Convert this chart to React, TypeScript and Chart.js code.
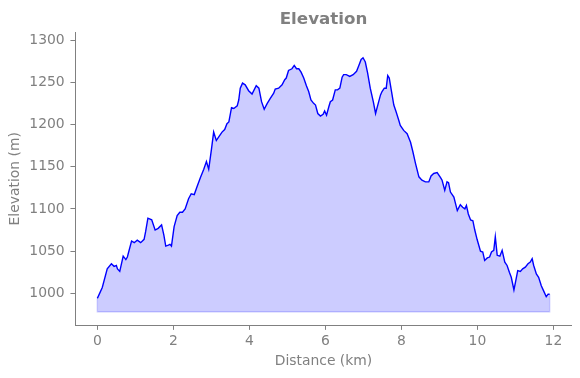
import React, { useEffect, useRef } from "react";
import { Chart, registerables } from "chart.js";

Chart.register(...registerables);

const distances: number[] = [
  0.0, 0.13, 0.26, 0.37, 0.44, 0.5, 0.53, 0.59, 0.68, 0.75, 0.79, 0.9, 0.97, 1.05, 1.14, 1.23, 1.27, 1.33, 1.43,
  1.52, 1.6, 1.69, 1.75, 1.8, 1.87, 1.91, 1.95, 2.02, 2.1, 2.17, 2.24, 2.31, 2.4, 2.47, 2.55, 2.62, 2.71, 2.8,
  2.87, 2.93, 3.0, 3.06, 3.13, 3.19, 3.28, 3.35, 3.41, 3.46, 3.53, 3.59, 3.68, 3.72, 3.76, 3.82, 3.89, 3.98,
  4.07, 4.18, 4.25, 4.32, 4.39, 4.47, 4.55, 4.64, 4.68, 4.77, 4.86, 4.93, 4.97, 5.03, 5.12, 5.18, 5.24, 5.3,
  5.36, 5.43, 5.5, 5.56, 5.62, 5.69, 5.74, 5.8, 5.87, 5.94, 5.98, 6.03, 6.09, 6.13, 6.19, 6.26, 6.32, 6.38,
  6.44, 6.48, 6.55, 6.64, 6.73, 6.82, 6.88, 6.94, 6.99, 7.05, 7.11, 7.18, 7.26, 7.32, 7.39, 7.45, 7.49, 7.55,
  7.6, 7.64, 7.68, 7.74, 7.8, 7.86, 7.93, 7.97, 8.06, 8.15, 8.24, 8.3, 8.37, 8.46, 8.54, 8.63, 8.72, 8.78,
  8.85, 8.94, 9.03, 9.07, 9.14, 9.2, 9.24, 9.29, 9.38, 9.47, 9.55, 9.61, 9.67, 9.71, 9.76, 9.82, 9.88, 9.93,
  9.99, 10.08, 10.14, 10.19, 10.26, 10.32, 10.37, 10.43, 10.47, 10.52, 10.59, 10.65, 10.72, 10.78, 10.84,
  10.89, 10.96, 11.0, 11.06, 11.13, 11.19, 11.26, 11.33, 11.39, 11.44, 11.48, 11.55, 11.61, 11.68, 11.75,
  11.81, 11.86, 11.9,
];

const elevations: number[] = [
  994, 1007, 1029, 1035, 1032, 1033, 1029, 1026, 1044, 1040, 1043, 1062, 1060, 1063, 1060, 1064, 1073, 1089, 1087,
  1075, 1077, 1081, 1069, 1056, 1057, 1058, 1056, 1079, 1092, 1096, 1096, 1100, 1112, 1118, 1117, 1126, 1137, 1147,
  1156, 1147, 1170, 1191, 1181, 1185, 1191, 1194, 1201, 1203, 1220, 1219, 1222, 1229, 1243, 1249, 1247, 1240,
  1236, 1246, 1243, 1227, 1218, 1225, 1231, 1237, 1242, 1243, 1247, 1253, 1255, 1264, 1266, 1270, 1266, 1266,
  1262, 1255, 1246, 1239, 1229, 1225, 1223, 1213, 1210, 1212, 1216, 1211, 1221, 1227, 1229, 1241, 1241, 1243,
  1256, 1259, 1259, 1257, 1259, 1263, 1270, 1277, 1279, 1274, 1261, 1243, 1227, 1213, 1225, 1235, 1239, 1243,
  1243, 1258, 1255, 1239, 1223, 1215, 1205, 1199, 1193, 1189, 1179, 1168, 1154, 1138, 1134, 1132, 1132, 1139,
  1142, 1143, 1137, 1134, 1122, 1132, 1131, 1120, 1114, 1098, 1105, 1102, 1100, 1104, 1094, 1087, 1086, 1075,
  1064, 1050, 1049, 1039, 1042, 1043, 1049, 1051, 1067, 1045, 1044, 1051, 1037, 1033, 1025,
  1019, 1004, 1013, 1027, 1026, 1029, 1031, 1035, 1037, 1041, 1033, 1023, 1019, 1009, 1002,
  996, 999, 999,
];

const fillBase = 978;
const xTicks: number[] = [0, 2, 4, 6, 8, 10, 12];
const yTicks: number[] = [1000, 1050, 1100, 1150, 1200, 1250, 1300];

const TEXT = "#808080";
const SPINE = "#808080";
const FONT = "DejaVu Sans";

export default function App() {
  const ref = useRef<HTMLCanvasElement>(null);

  useEffect(() => {
    if (!ref.current) return;
    const pts = distances.map((d, i) => ({ x: d, y: elevations[i] }));
    const edge = [
      { x: distances[0], y: elevations[0] },
      { x: distances[0], y: fillBase },
      { x: distances[distances.length - 1], y: fillBase },
      { x: distances[distances.length - 1], y: elevations[elevations.length - 1] },
    ];
    const chart = new Chart(ref.current, {
      type: "line",
      data: {
        datasets: [
          {
            data: pts,
            borderColor: "#0000ff",
            borderWidth: 1.4,
            pointRadius: 0,
            tension: 0,
            fill: { value: fillBase },
            backgroundColor: "rgba(0,0,255,0.2)",
            order: 1,
          },
          {
            data: edge,
            borderColor: "rgba(0,0,255,0.2)",
            borderWidth: 1.4,
            pointRadius: 0,
            fill: false,
            order: 2,
          },
        ],
      },
      options: {
        animation: false,
        responsive: false,
        layout: { padding: { left: 0, right: 8.3, top: 0, bottom: 0 } },
        plugins: {
          legend: { display: false },
          tooltip: { enabled: false },
          title: {
            display: true,
            fullSize: false,
            text: "Elevation",
            color: TEXT,
            font: { family: FONT, size: 16.7, weight: "bold" },
            padding: { top: 9.2, bottom: 3.3 },
          },
        },
        scales: {
          x: {
            type: "linear",
            min: -0.58,
            max: 12.48,
            afterBuildTicks: (s: any) => {
              s.ticks = xTicks.map((v) => ({ value: v }));
            },
            afterFit: (s: any) => {
              s.height = 53;
            },
            ticks: {
              color: TEXT,
              font: { family: FONT, size: 13.9 },
              padding: 3.5,
              maxRotation: 0,
              autoSkip: false,
              callback: (v: any) => String(v),
            },
            grid: { drawOnChartArea: false, drawTicks: true, tickLength: 4.86, color: SPINE, lineWidth: 1 },
            border: { display: true, color: SPINE, width: 1 },
            title: {
              display: true,
              text: "Distance (km)",
              color: TEXT,
              font: { family: FONT, size: 13.9 },
              padding: { top: 0, bottom: 8.65 },
            },
          },
          y: {
            type: "linear",
            min: 962.5,
            max: 1308.9,
            afterBuildTicks: (s: any) => {
              s.ticks = yTicks.map((v) => ({ value: v }));
            },
            afterFit: (s: any) => {
              s.width = 75.3;
            },
            ticks: {
              color: TEXT,
              font: { family: FONT, size: 13.9 },
              padding: 5.8,
              autoSkip: false,
              callback: (v: any) => String(v),
            },
            grid: { drawOnChartArea: false, drawTicks: true, tickLength: 4.86, color: SPINE, lineWidth: 1 },
            border: { display: true, color: SPINE, width: 1 },
            title: {
              display: true,
              text: "Elevation (m)",
              color: TEXT,
              font: { family: FONT, size: 13.9 },
              padding: { top: 7.5, bottom: 0 },
            },
          },
        },
      },
    });
    return () => chart.destroy();
  }, []);

  return (
    <div style={{ position: "absolute", left: 0, top: 0, width: 580, height: 378, background: "#fff" }}>
      <canvas ref={ref} width={580} height={378} style={{ display: "block", width: 580, height: 378 }} />
    </div>
  );
}
